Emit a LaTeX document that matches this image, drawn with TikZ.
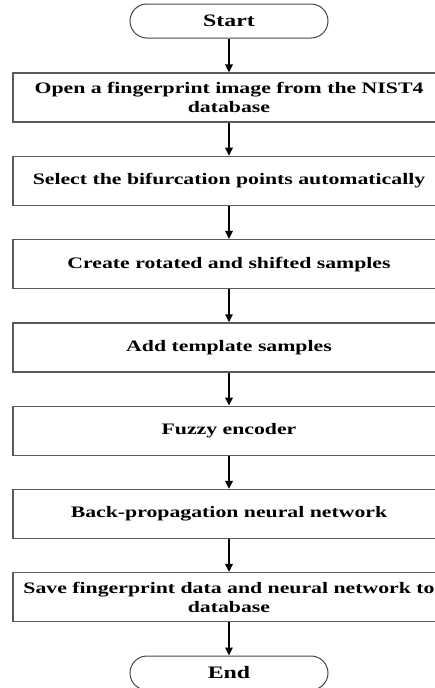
\documentclass[tikz,border=0pt]{standalone}
\usepackage{fontspec}
\setmainfont{Liberation Serif}[FakeStretch=1.36]
\usetikzlibrary{arrows.meta}

\begin{document}
\begin{tikzpicture}[x=1pt,y=1pt,yscale=-1,xscale=1,
  stepbox/.style={draw={rgb, 255:red, 90; green, 90; blue, 90}, line width=1.3, minimum width=432pt, minimum height=49pt, inner sep=0pt, align=center, font=\bfseries\fontsize{16}{19}\selectfont},
  termbox/.style={draw={rgb, 255:red, 70; green, 70; blue, 70}, line width=1, rounded corners=17pt, minimum width=198pt, minimum height=34pt, inner sep=0pt, font=\bfseries\fontsize{17.5}{17.5}\selectfont},
  flowarrow/.style={-{Triangle[length=8pt,width=7.5pt]}, line width=1.6}]
%set diagram to the size of the page
\useasboundingbox (0,0) rectangle (435,688);

%Shape: Terminal [id:start]
\node [termbox] (start) at (229,21) {Start};
%Shape: Rectangle [id:open]
\node [stepbox] (open) at (229,97.5) {Open a fingerprint image from the NIST4\\database};
%Shape: Rectangle [id:select]
\node [stepbox] (select) at (229,180.8) {Select the bifurcation points automatically};
%Shape: Rectangle [id:create]
\node [stepbox] (create) at (229,264.1) {Create rotated and shifted samples};
%Shape: Rectangle [id:addtpl]
\node [stepbox] (addtpl) at (229,347.4) {Add template samples};
%Shape: Rectangle [id:fuzzy]
\node [stepbox] (fuzzy) at (229,430.7) {Fuzzy encoder};
%Shape: Rectangle [id:backprop]
\node [stepbox] (backprop) at (229,514) {Back-propagation neural network};
%Shape: Rectangle [id:save]
\node [stepbox] (save) at (229,597) {Save fingerprint data and neural network to\\database};
%Shape: Terminal [id:end]
\node [termbox] (end) at (229,673) {End};

%Straight Lines
\draw [flowarrow] (start) -- (open);
\draw [flowarrow] (open) -- (select);
\draw [flowarrow] (select) -- (create);
\draw [flowarrow] (create) -- (addtpl);
\draw [flowarrow] (addtpl) -- (fuzzy);
\draw [flowarrow] (fuzzy) -- (backprop);
\draw [flowarrow] (backprop) -- (save);
\draw [flowarrow] (save) -- (end);

\end{tikzpicture}
\end{document}
